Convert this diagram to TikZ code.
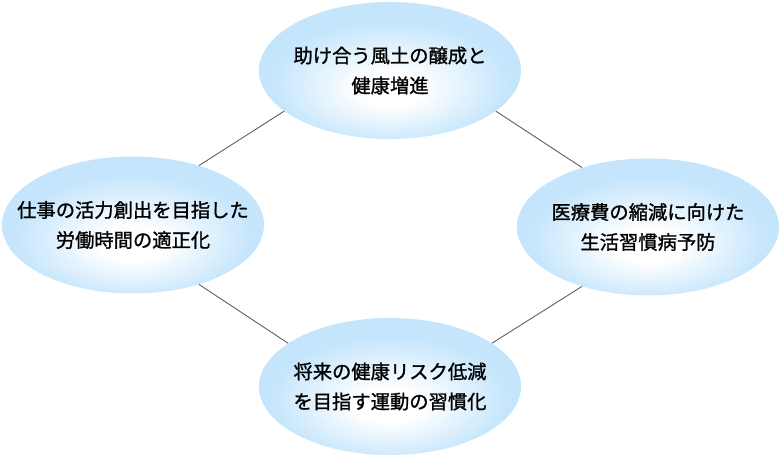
\documentclass[tikz,border=0pt]{standalone}
\usepackage{fontspec}
\usepackage{tikz}
\usetikzlibrary{shapes.geometric}
\newfontfamily\jpfont[FakeBold=1.2]{Noto Sans CJK JP}
\definecolor{BubbleBlue}{RGB}{196,229,252}
\definecolor{LinkGray}{RGB}{95,95,95}
\pgfdeclareradialshading{bubbleshade}{\pgfpoint{0bp}{-8bp}}{color(0bp)=(white);color(6bp)=(white);color(23bp)=(BubbleBlue);color(50bp)=(BubbleBlue)}
\tikzset{
  bubble/.style={ellipse,shading=bubbleshade,minimum width=262pt,minimum height=137pt,inner sep=0pt},
  txt/.style={align=center,font=\jpfont\fontsize{19.3}{30}\selectfont,inner sep=0pt},
  link/.style={draw=LinkGray,line width=0.9pt},
}
\begin{document}
\begin{tikzpicture}[x=1pt,y=-1pt]
\useasboundingbox (0,0) rectangle (780,457);
\node[bubble](top) at (390,70.5){};\node[bubble](left) at (133,225){};
\node[bubble](right) at (648,227){};\node[bubble](bot) at (390,386.5){};
\node[txt](toptxt) at (top){助け合う風土の醸成と\\健康増進};
\node[txt](lefttxt) at (left){仕事の活力創出を目指した\\労働時間の適正化};
\node[txt](righttxt) at (right){医療費の縮減に向けた\\生活習慣病予防};
\node[txt](bottxt) at (bot){将来の健康リスク低減\\を目指す運動の習慣化};
\draw[link] (top.201)--(left.42);\draw[link] (top.339)--(right.138);
\draw[link] (left.318)--(bot.157);\draw[link] (right.222)--(bot.23);
\end{tikzpicture}
\end{document}
